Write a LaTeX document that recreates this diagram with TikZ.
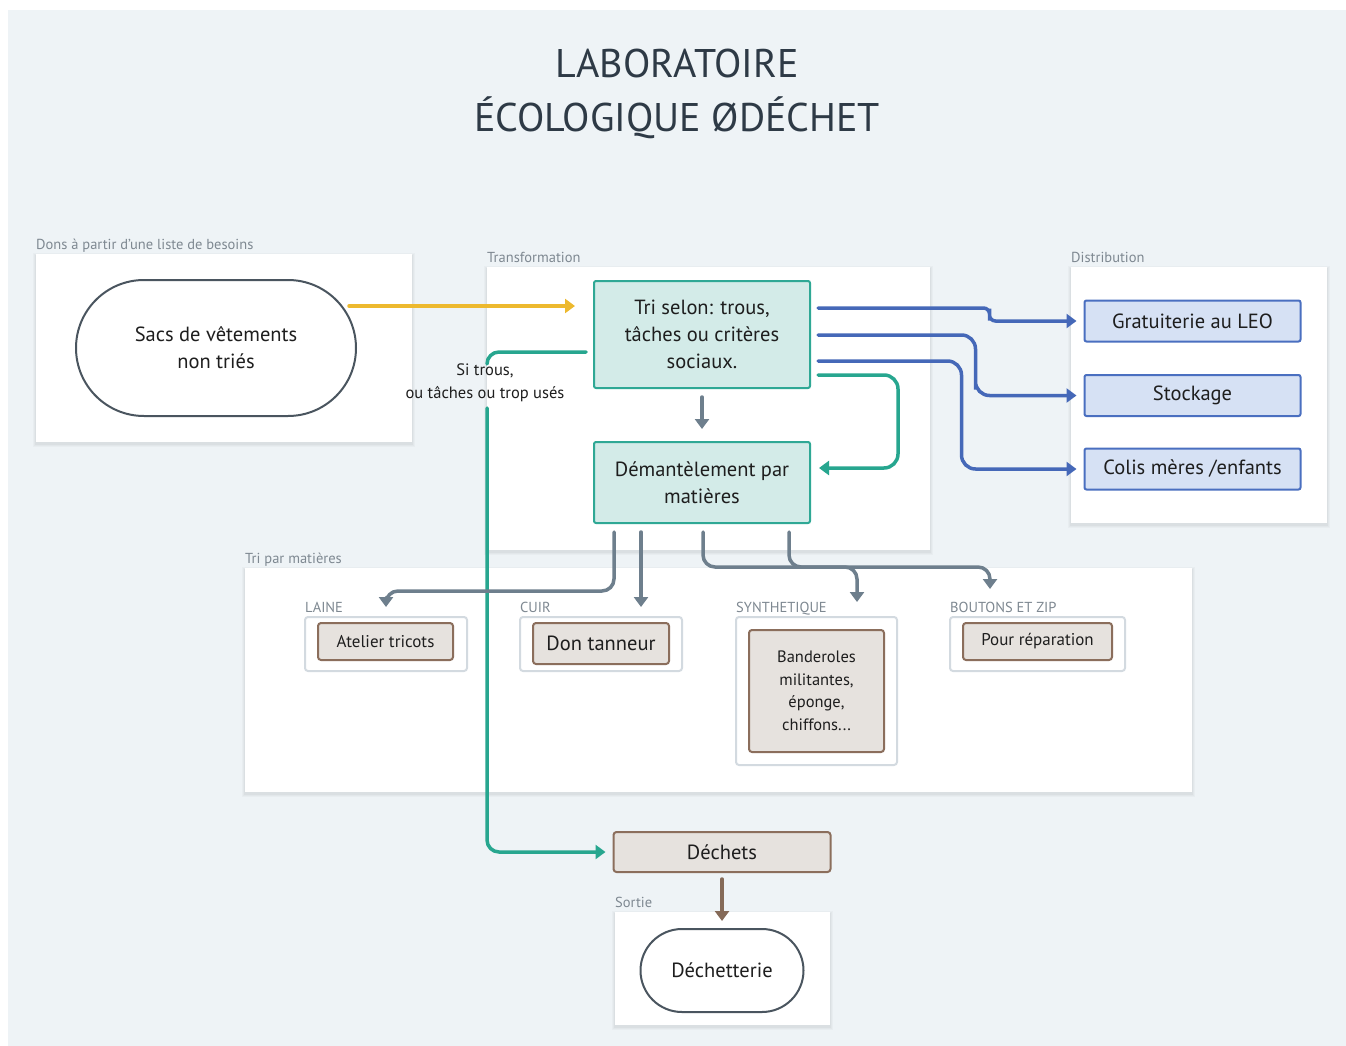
\documentclass[tikz,border=0pt]{standalone}
\usepackage{fontspec}
\setmainfont{PT Sans}
\usetikzlibrary{arrows.meta,shapes.misc,calc}
\definecolor{bgc}{HTML}{EEF3F6}
\definecolor{titlec}{HTML}{2E3A46}
\definecolor{txt}{HTML}{1E1E1E}
\definecolor{lblc}{HTML}{7E8891}
\definecolor{tealF}{HTML}{D3EBE8}
\definecolor{tealB}{HTML}{2FA895}
\definecolor{blueF}{HTML}{D6E1F4}
\definecolor{blueB}{HTML}{4A6FC0}
\definecolor{brownF}{HTML}{E6E2DE}
\definecolor{brownB}{HTML}{8B6E5C}
\definecolor{subB}{HTML}{D3DAE0}
\definecolor{stadB}{HTML}{4A555F}
\definecolor{grayL}{HTML}{6E7F8D}
\definecolor{yellowL}{HTML}{EDB92E}
\definecolor{tealL}{HTML}{27A68F}
\definecolor{blueL}{HTML}{4568B8}
\definecolor{brownL}{HTML}{856A58}
\newcommand\softpanel[4]{%
  \fill[black, opacity=0.025] (#1-3,#2-1) rectangle (#3+3,#4+5);
  \fill[black, opacity=0.025] (#1-2,#2) rectangle (#3+2,#4+4);
  \fill[black, opacity=0.03] (#1-1,#2+1) rectangle (#3+1,#4+3);
  \fill[white] (#1,#2) rectangle (#3,#4);}
\begin{document}
\begin{tikzpicture}[x=1pt,y=-1pt,
  plabel/.style={anchor=base west, inner sep=0, text=lblc, font=\fontsize{14.5}{16}\selectfont},
  mainfont/.style={font=\fontsize{20.5}{27}\selectfont, text=txt, align=center, inner sep=0},
  tealbox/.style={mainfont, draw=tealB, fill=tealF, line width=2, rounded corners=2},
  bluebox/.style={mainfont, draw=blueB, fill=blueF, line width=2, rounded corners=2},
  brownbox/.style={mainfont, draw=brownB, fill=brownF, line width=2, rounded corners=3},
  subpanel/.style={draw=subB, fill=white, line width=2, rounded corners=3},
  stad/.style={mainfont, rounded rectangle, draw=stadB, fill=white, line width=2},
  conn/.style={line width=3.5, line cap=round, rounded corners=12, -{Triangle[length=10pt,width=14pt]}},
  yline/.style={conn, draw=yellowL},
  tline/.style={conn, draw=tealL},
  bline/.style={conn, draw=blueL},
  gline/.style={conn, draw=grayL},
  brline/.style={conn, draw=brownL},
]
\useasboundingbox (0,0) rectangle (1346,1046);
\fill[white] (0,0) rectangle (1346,1046);
\fill[bgc] (8,10) rectangle (1346,1046);

% title
\node[font=\fontsize{40}{54}\selectfont, text=titlec, align=center, inner sep=0] (title) at (677,94) {LABORATOIRE\\ÉCOLOGIQUE ØDÉCHET};

% panels
\softpanel{36}{254}{412}{442}
\softpanel{487}{267}{930}{550}
\softpanel{1071}{267}{1327}{523}
\softpanel{245}{568}{1192}{792}
\softpanel{615}{912}{830}{1025}

\node[plabel] (lDons) at (36,249) {Dons à partir d'une liste de besoins};
\node[plabel] (lTrans) at (487,262) {Transformation};
\node[plabel] (lDist) at (1071,262) {Distribution};
\node[plabel] (lTri) at (245,563) {Tri par matières};
\node[plabel] (lSort) at (615,907) {Sortie};
\node[plabel] (lLaine) at (305,612) {LAINE};
\node[plabel] (lCuir) at (520,612) {CUIR};
\node[plabel] (lSyn) at (736,612) {SYNTHETIQUE};
\node[plabel] (lBout) at (950,612) {BOUTONS ET ZIP};

% main nodes
\node[stad, minimum width=280, minimum height=136] (sacs) at (216,348) {Sacs de vêtements\\non triés};
\node[tealbox, minimum width=216, minimum height=107] (tri) at (702,334.5) {Tri selon: trous,\\tâches ou critères\\sociaux.};
\node[tealbox, minimum width=216, minimum height=81] (dem) at (702,482.5) {Démantèlement par\\matières};
\node[bluebox, minimum width=216, minimum height=41] (grat) at (1192.5,321) {Gratuiterie au LEO};
\node[bluebox, minimum width=216, minimum height=41] (stock) at (1192.5,395.5) {Stockage};
\node[bluebox, minimum width=216, minimum height=41] (colis) at (1192.5,469) {Colis mères /enfants};

% material sub-panels
\node[subpanel, minimum width=162, minimum height=54] (laineP) at (386,644) {};
\node[subpanel, minimum width=162, minimum height=54] (cuirP) at (601,644) {};
\node[subpanel, minimum width=161, minimum height=148] (synP) at (816.5,691) {};
\node[subpanel, minimum width=175, minimum height=54] (boutP) at (1037.5,644) {};

\node[brownbox, minimum width=135, minimum height=37, font=\fontsize{17}{20}\selectfont] (atelier) at (385.5,641.5) {Atelier tricots};
\node[brownbox, minimum width=136, minimum height=41] (tanneur) at (601,643.5) {Don tanneur};
\node[brownbox, minimum width=135, minimum height=122, font=\fontsize{16.5}{22.5}\selectfont] (band) at (816.5,691) {Banderoles\\militantes,\\éponge,\\chiffons...};
\node[brownbox, minimum width=149, minimum height=37, font=\fontsize{17}{20}\selectfont] (repar) at (1037.5,641.5) {Pour réparation};

\node[brownbox, minimum width=217, minimum height=40] (dechets) at (722,852) {Déchets};
\node[stad, minimum width=163, minimum height=83] (dtt) at (722,970.5) {Déchetterie};

% reject label
\node[font=\fontsize{16.5}{23}\selectfont, text=txt, align=center, inner sep=0] (si) at (485,382.5) {Si trous,\\ou tâches ou trop usés};

% connectors
\draw[yline] ($(sacs.east)+(-8,-42)$) -- ($(tri.west)+(-18,-28.5)$);

\coordinate (rj1) at (487,364);
\coordinate (rj2) at (487,408);
\draw[tealL, line width=3.5, line cap=round, rounded corners=12] ($(tri.west)+(-7,17.5)$) -| (rj1);
\draw[tline, shorten >=7pt] (rj2) |- (dechets.west);

\draw[gline, shorten <=8pt, shorten >=12pt] (tri.south) -- (dem.north);

\draw[tline, rounded corners=14] ($(tri.east)+(7,40.5)$) -- ($(tri.east)+(87,40.5)$) -- ($(dem.east)+(87,-14.5)$) -- ($(dem.east)+(8,-14.5)$);

\draw[bline, rounded corners=6, shorten >=7pt] ($(tri.east)+(7,-26.5)$) -| ($(grat.west)+(-94,-6.5)$) |- (grat.west);
\draw[bline, rounded corners=14, shorten >=7pt] ($(tri.east)+(7,0.5)$) -| ($(stock.west)+(-108,-20)$) |- (stock.west);
\draw[bline, rounded corners=14, shorten >=7pt] ($(tri.east)+(7,26.5)$) -| ($(colis.west)+(-122,-40)$) |- (colis.west);

\coordinate (d1) at ($(dem.south west)+(21,8)$);
\coordinate (d2) at ($(dem.south west)+(48,8)$);
\coordinate (d3) at ($(dem.south)+(1,8)$);
\coordinate (d4) at ($(dem.south)+(87,8)$);
\draw[gline, shorten >=9pt] (d1) -- ($(d1)+(0,59)$) -| (laineP.north);
\draw[gline, shorten >=9pt] (d2) -- (d2 |- cuirP.north);
\draw[gline] (d3) |- ($(synP.north)+(40.5,-49)$) -- ($(synP.north)+(40.5,-14)$);
\draw[gline] (d4) |- ($(boutP.north)+(-47.5,-49)$) -- ($(boutP.north)+(-47.5,-27)$);

\draw[brline, shorten <=6pt, shorten >=7pt] (dechets.south) -- (dtt.north);
\end{tikzpicture}
\end{document}
